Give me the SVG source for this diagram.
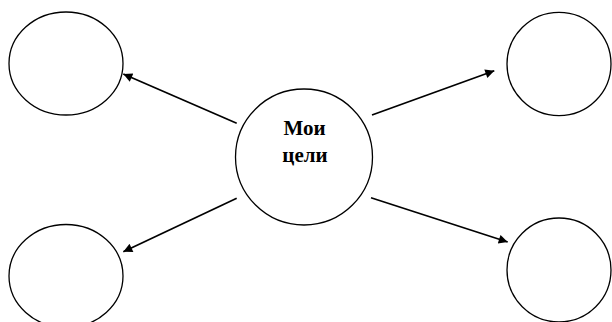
<svg xmlns="http://www.w3.org/2000/svg" width="612" height="322" viewBox="0 0 612 322">
<style>
.n{fill:#fff;stroke:#000;stroke-width:1.3}
.c{stroke:#000;stroke-width:1.7;fill:none}
.t{font-family:"Liberation Serif","Times New Roman",serif;font-weight:bold;font-size:21px;text-anchor:middle;fill:#000}
</style>
<defs>
<marker id="ah" viewBox="0 0 10 10" refX="10" refY="5" markerWidth="11" markerHeight="9" markerUnits="userSpaceOnUse" orient="auto">
<path d="M0,0 L10,5 L0,10 Z" fill="#000"/>
</marker>
</defs>
<rect width="612" height="322" fill="#fff"/>
<g id="n-center"><ellipse class="n" cx="304" cy="157" rx="68.5" ry="68"/>
<text class="t" x="304.5" y="135">Мои</text>
<text class="t" x="305" y="162">цели</text></g>
<g id="n-tl"><ellipse class="n" cx="66" cy="63.5" rx="57" ry="51.5"/></g>
<g id="n-tr"><ellipse class="n" cx="559" cy="64" rx="52" ry="51.7"/></g>
<g id="n-bl"><ellipse class="n" cx="66" cy="276" rx="57" ry="51.5"/></g>
<g id="n-br"><ellipse class="n" cx="559" cy="270" rx="52" ry="52"/></g>
<g id="connectors">
<line class="c" x1="236.7" y1="123.3" x2="123.3" y2="74" marker-end="url(#ah)"/>
<line class="c" x1="372" y1="115" x2="494.3" y2="70.7" marker-end="url(#ah)"/>
<line class="c" x1="236.7" y1="198.3" x2="123.3" y2="251.7" marker-end="url(#ah)"/>
<line class="c" x1="371" y1="197.7" x2="507.7" y2="242" marker-end="url(#ah)"/>
</g>
</svg>
